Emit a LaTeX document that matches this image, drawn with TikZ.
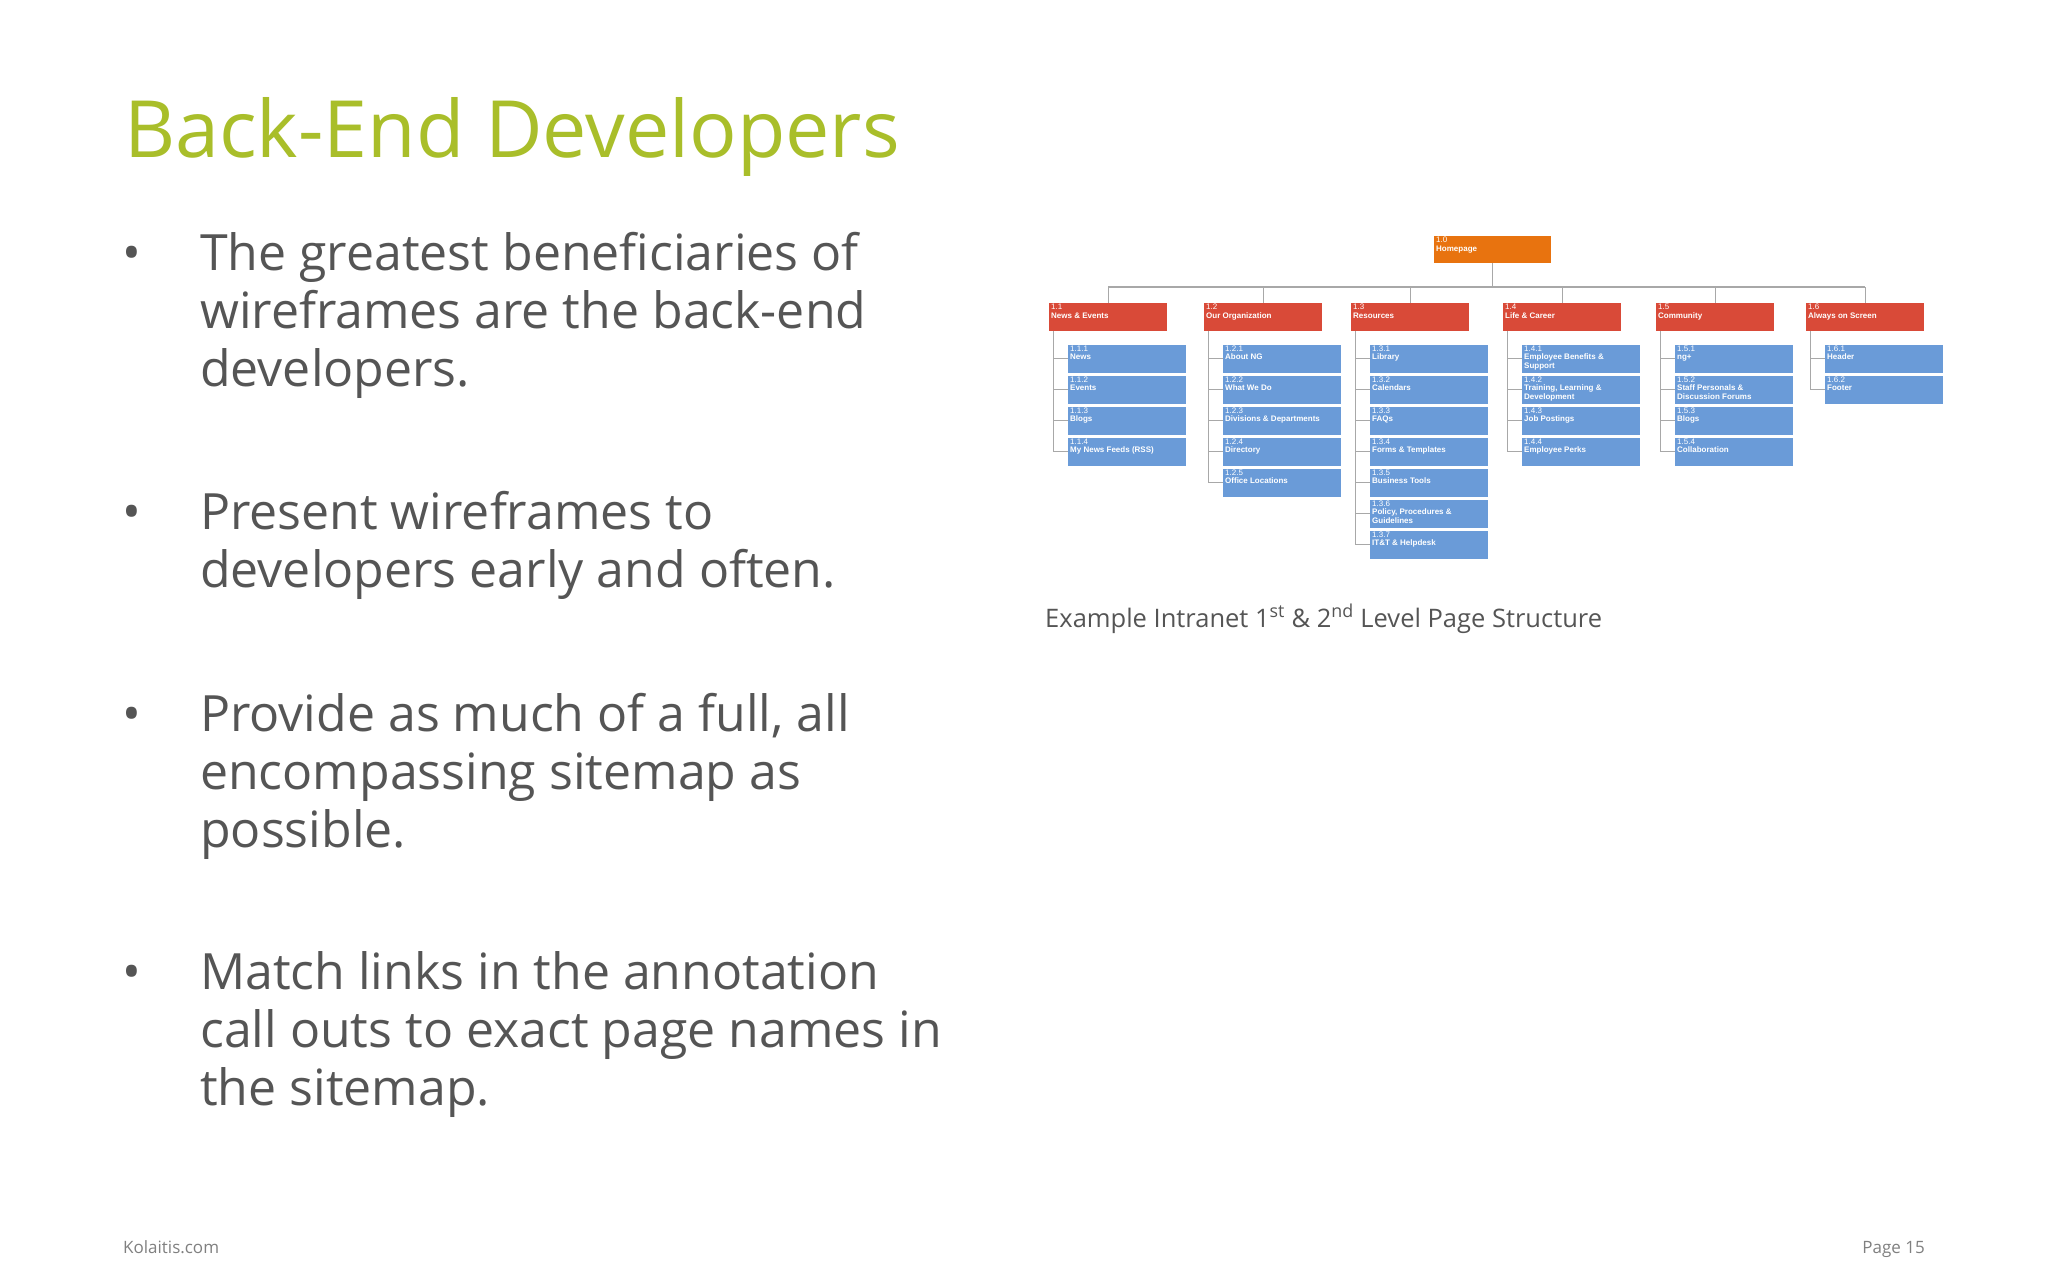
\documentclass[tikz,border=0pt]{standalone}
\usepackage{fontspec}
\setmainfont{Open Sans}
\newfontfamily\boxfont{Liberation Sans}
\definecolor{titlegreen}{HTML}{A9BE2A}
\definecolor{bodygray}{HTML}{555555}
\definecolor{hporange}{HTML}{E8730F}
\definecolor{lvred}{HTML}{D94A38}
\definecolor{lvblue}{HTML}{6A9BD8}
\definecolor{conngray}{HTML}{A8A8A8}
\newcommand\mykid[3]{%
  \node[lvtwo] (c#1-#2) at ([xshift=19pt,yshift={-13pt-31pt*(#2-1)}]p#1.south west) {};
  \node[boxlabel] at ([xshift=2pt,yshift=-1pt]c#1-#2.north west) {1.#1.#2\\\bfseries #3};
  \draw[conn,line width=1pt] ([xshift=4pt]p#1.south west) |- (c#1-#2.west);
}
\newcommand\mypar[3]{%
  \node[lvone] (p#1) at (#2,303) {};
  \node[boxlabel] at (#2+2,304) {1.#1\\\bfseries #3};
  \draw[conn] (p#1.north) -- (p#1.north |- busl);
}
\newcommand\mylines[1]{\begin{tabular}[t]{@{}l@{}}#1\end{tabular}}
\begin{document}
\begin{tikzpicture}[x=1pt,y=-1pt,
  bullettext/.style={anchor=base west,inner sep=0,text=bodygray,font=\fontsize{50}{58}\selectfont},
  bulletdot/.style={anchor=base,inner sep=0,text=bodygray,font=\fontsize{50}{58}\selectfont},
  topbox/.style={fill=hporange,minimum width=117pt,minimum height=27pt,anchor=north west,inner sep=0},
  lvone/.style={fill=lvred,minimum width=118pt,minimum height=28pt,anchor=north west,inner sep=0},
  lvtwo/.style={fill=lvblue,minimum width=118pt,minimum height=28pt,anchor=north west,inner sep=0},
  boxlabel/.style={anchor=north west,inner sep=0,text=white,align=left,font=\boxfont\fontsize{8}{8.5}\selectfont},
  conn/.style={draw=conngray,line width=1.3pt}]
\useasboundingbox (0,0) rectangle (2048,1280);
\fill[white] (0,0) rectangle (2048,1280);
\node[anchor=base west,inner sep=0,text=titlegreen,font=\fontsize{79}{90}\selectfont] (title) at (124,157) {Back-End Developers};
\node[bulletdot] (d1) at (132,270) {•};
\node[bullettext] (b1) at (200,270) {\mylines{The greatest beneficiaries of\\wireframes are the back-end\\developers.}};
\node[bulletdot] (d2) at (132,529) {•};
\node[bullettext] (b2) at (200,529) {\mylines{Present wireframes to\\developers early and often.}};
\node[bulletdot] (d3) at (132,731) {•};
\node[bullettext] (b3) at (200,731) {\mylines{Provide as much of a full, all\\encompassing sitemap as\\possible.}};
\node[bulletdot] (d4) at (132,989) {•};
\node[bullettext] (b4) at (200,989) {\mylines{Match links in the annotation\\call outs to exact page names in\\the sitemap.}};
\node[anchor=base west,inner sep=0,text=bodygray,font=\fontsize{25.5}{30}\selectfont] (cap) at (1045,627) {Example Intranet 1\textsuperscript{st} \& 2\textsuperscript{nd} Level Page Structure};
\node[anchor=base west,inner sep=0,text=gray,font=\fontsize{17}{20}\selectfont] (foot) at (123,1253) {Kolaitis.com};
\node[anchor=base east,inner sep=0,text=gray,font=\fontsize{17}{20}\selectfont] (page) at (1925,1253) {Page 15};
\node[topbox] (home) at (1434,236) {};
\node[boxlabel] at (1436,237) {1.0\\\bfseries Homepage};
\coordinate (busl) at (1108,287);
\coordinate (busr) at (1865,287);
\draw[conn] (home.south) -- (home.south |- busl);
\draw[conn] (busl) -- (busr);
\mypar{1}{1049}{News \& Events}
\mypar{2}{1204}{Our Organization}
\mypar{3}{1351}{Resources}
\mypar{4}{1503}{Life \& Career}
\mypar{5}{1656}{Community}
\mypar{6}{1806}{Always on Screen}
\mykid{1}{1}{News}
\mykid{1}{2}{Events}
\mykid{1}{3}{Blogs}
\mykid{1}{4}{My News Feeds (RSS)}
\mykid{2}{1}{About NG}
\mykid{2}{2}{What We Do}
\mykid{2}{3}{Divisions \& Departments}
\mykid{2}{4}{Directory}
\mykid{2}{5}{Office Locations}
\mykid{3}{1}{Library}
\mykid{3}{2}{Calendars}
\mykid{3}{3}{FAQs}
\mykid{3}{4}{Forms \& Templates}
\mykid{3}{5}{Business Tools}
\mykid{3}{6}{Policy, Procedures \&\\\bfseries Guidelines}
\mykid{3}{7}{IT\&T \& Helpdesk}
\mykid{4}{1}{Employee Benefits \&\\\bfseries Support}
\mykid{4}{2}{Training, Learning \&\\\bfseries Development}
\mykid{4}{3}{Job Postings}
\mykid{4}{4}{Employee Perks}
\mykid{5}{1}{ng+}
\mykid{5}{2}{Staff Personals \&\\\bfseries Discussion Forums}
\mykid{5}{3}{Blogs}
\mykid{5}{4}{Collaboration}
\mykid{6}{1}{Header}
\mykid{6}{2}{Footer}
\end{tikzpicture}
\end{document}
